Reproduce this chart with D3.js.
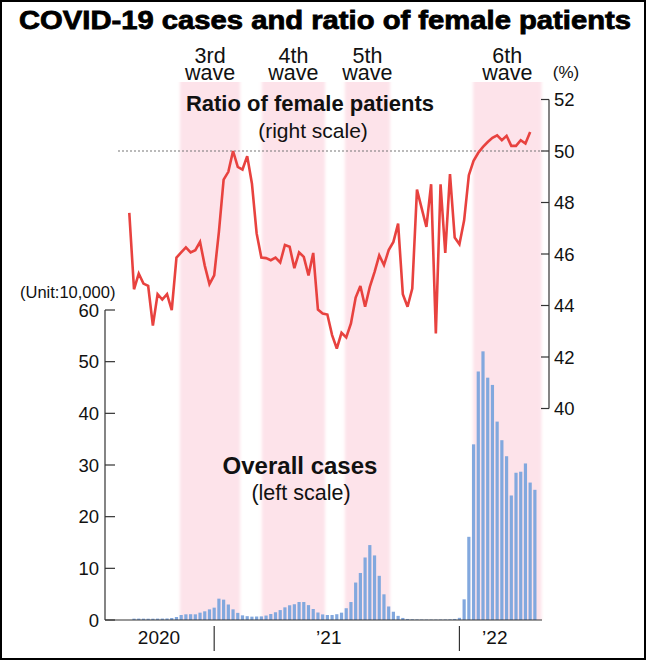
<!DOCTYPE html>
<html><head><meta charset="utf-8">
<script src="https://cdn.jsdelivr.net/npm/d3@7/dist/d3.min.js"></script>
<style>
html,body{margin:0;padding:0;background:#fff;}
svg{display:block;font-family:"Liberation Sans",Arial,Helvetica,sans-serif;}
</style></head><body>
<svg id="chart" width="646" height="660"></svg>
<script>
// ---- data ----
const title = "COVID-19 cases and ratio of female patients";
// weekly overall cases (unit: 10,000), weeks 1..86
const cases = [0.26,0.27,0.26,0.25,0.25,0.27,0.28,0.30,0.39,0.58,
  0.97,1.10,1.12,1.10,1.42,1.68,2.06,2.39,4.13,3.94,
  3.00,2.06,1.38,0.90,0.74,0.65,0.68,0.70,0.86,1.16,
  1.50,1.92,2.45,2.85,3.05,3.48,3.48,2.88,2.13,1.45,
  1.08,0.97,0.97,1.12,1.42,2.28,3.48,7.25,9.10,12.1,
  14.5,12.5,8.55,4.97,2.62,1.60,0.80,0.40,0.20,0.14,
  0.11,0.09,0.08,0.08,0.08,0.09,0.10,0.12,0.20,0.42,
  4.0,16.1,34.0,48.1,52.0,46.9,45.5,38.4,34.8,31.7,
  24.1,28.5,28.7,30.3,26.6,25.2];
// weekly ratio of female patients (%), weeks 0..85
const ratio = [47.60,44.63,45.24,44.85,44.76,43.22,44.44,44.23,44.44,43.82,
  45.86,46.06,46.26,46.06,46.15,46.47,45.55,44.83,45.17,46.86,
  48.89,49.19,50.00,49.38,49.28,49.80,48.74,46.80,45.86,45.84,
  45.76,45.86,45.67,46.35,46.28,45.45,46.06,45.89,45.17,46.04,
  43.84,43.69,43.65,42.85,42.33,42.94,42.76,43.30,44.31,44.76,
  43.95,44.72,45.30,45.95,45.57,46.15,46.47,47.18,44.44,43.95,
  44.66,48.50,47.77,47.05,48.71,42.91,48.71,46.04,49.10,46.64,
  46.38,47.31,49.06,49.62,49.93,50.16,50.35,50.51,50.61,50.42,
  50.59,50.20,50.20,50.42,50.29,50.74];
const waveNames = ["3rd","4th","5th","6th"];
const waveStart = [10.75, 28.1, 45.7, 72.9];   // week index
const waveEnd   = [23.5, 41.5, 55.3, 87.4];
const yearTickWeeks = [18, 70];
const yearLabels = ["2020", "\u201921", "\u201922"];
const yearLabelWeeks = [6.3, 42.3, 77.5];
const leftTicks = [0,10,20,30,40,50,60];
const rightTicks = [40,42,44,46,48,50,52];

// ---- drawing ----
const svg = d3.select("#chart");
const x = d3.scaleLinear().domain([0, 86]).range([129.3, 129.3 + 86*4.716]);
const yC = d3.scaleLinear().domain([0, 60]).range([620, 310]);
const yR = d3.scaleLinear().domain([40, 52]).range([408.5, 99.5]);

const defs = svg.append("defs");
defs.append("filter").attr("id","soft").attr("x","-10%").attr("width","120%")
  .append("feGaussianBlur").attr("stdDeviation","1.8 0");

// wave bands
svg.append("g").attr("filter","url(#soft)").selectAll("rect").data(waveStart).join("rect")
  .attr("x", (d,i)=>x(d)).attr("width",(d,i)=>x(waveEnd[i])-x(d))
  .attr("y", 82).attr("height", 620-82)
  .attr("fill", "#fde3ea");

// wave labels (one text element, two lines)
const wl = svg.append("g").attr("font-size", 21.5).attr("text-anchor","middle").attr("fill","#111");
waveNames.forEach((n,i)=>{
  const cx = x((waveStart[i]+waveEnd[i])/2);
  const t = wl.append("text").attr("x",cx).attr("y",63);
  t.append("tspan").attr("x",cx).attr("y",63).text(n);
  t.append("tspan").attr("x",cx).attr("y",80).text("wave");
});

// bars
const bw = 3.2;
svg.append("g").selectAll("rect").data(cases).join("rect")
  .attr("x",(d,i)=>x(i+1)-bw/2).attr("width",bw)
  .attr("y",d=>yC(d)).attr("height",d=>yC(0)-yC(d))
  .attr("fill","#82a8de");

// baseline
svg.append("line").attr("x1",105).attr("x2",542).attr("y1",yC(0)).attr("y2",yC(0))
  .attr("stroke","#333").attr("stroke-width",1.2);

// left axis
const la = svg.append("g").attr("stroke","#333");
la.append("line").attr("x1",105).attr("x2",105).attr("y1",yC(60)).attr("y2",yC(0)).attr("stroke-width",1.2);
la.selectAll("line.t").data(leftTicks).join("line").attr("class","t")
  .attr("x1",105).attr("x2",115).attr("y1",d=>yC(d)).attr("y2",d=>yC(d)).attr("stroke-width",1.2);
svg.append("g").attr("font-size",18.5).attr("text-anchor","end").attr("fill","#111")
  .selectAll("text").data(leftTicks).join("text")
  .attr("x",99).attr("y",d=>yC(d)).attr("dy","0.36em").text(d=>d);
svg.append("text").attr("x",20).attr("y",298).attr("font-size",16.5).attr("fill","#111").text("(Unit:10,000)");

// right axis
const ra = svg.append("g").attr("stroke","#333");
ra.append("line").attr("x1",549).attr("x2",549).attr("y1",yR(52)).attr("y2",yR(40)).attr("stroke-width",1.2);
ra.selectAll("line.t").data(rightTicks).join("line").attr("class","t")
  .attr("x1",541).attr("x2",549).attr("y1",d=>yR(d)).attr("y2",d=>yR(d)).attr("stroke-width",1.2);
svg.append("g").attr("font-size",18.5).attr("text-anchor","start").attr("fill","#111")
  .selectAll("text").data(rightTicks).join("text")
  .attr("x",554).attr("y",d=>yR(d)).attr("dy","0.36em").text(d=>d);
svg.append("text").attr("x",566).attr("y",78).attr("font-size",17).attr("text-anchor","middle").attr("fill","#111").text("(%)");

// 50% dotted reference
svg.append("line").attr("x1",118).attr("x2",549).attr("y1",yR(50)).attr("y2",yR(50))
  .attr("stroke","#777").attr("stroke-width",1.2).attr("stroke-dasharray","2,2");

// ratio line
svg.append("path").datum(ratio)
  .attr("d", d3.line().x((d,i)=>x(i)).y(d=>yR(d)))
  .attr("fill","none").attr("stroke","#e8423f").attr("stroke-width",2.6)
  .attr("stroke-linejoin","miter").attr("stroke-miterlimit",3);

// year ticks and labels
svg.append("g").selectAll("line").data(yearTickWeeks).join("line")
  .attr("x1",d=>x(d)).attr("x2",d=>x(d)).attr("y1",626).attr("y2",651)
  .attr("stroke","#333").attr("stroke-width",1.2);
svg.append("g").attr("font-size",19).attr("text-anchor","middle").attr("fill","#111")
  .selectAll("text").data(yearLabels).join("text")
  .attr("x",(d,i)=>x(yearLabelWeeks[i])).attr("y",644).text(d=>d);

// annotations
svg.append("text").attr("x",310).attr("y",111).attr("font-size",22).attr("font-weight","bold")
  .attr("text-anchor","middle").attr("fill","#111").text("Ratio of female patients");
svg.append("text").attr("x",313).attr("y",137.5).attr("font-size",21)
  .attr("text-anchor","middle").attr("fill","#111").text("(right scale)");
svg.append("text").attr("x",300).attr("y",474).attr("font-size",24).attr("font-weight","bold")
  .attr("text-anchor","middle").attr("fill","#111").text("Overall cases");
svg.append("text").attr("x",301).attr("y",500).attr("font-size",21.5)
  .attr("text-anchor","middle").attr("fill","#111").text("(left scale)");

// title
svg.append("text").attr("x",325).attr("y",29).attr("font-size",25).attr("font-weight","bold")
  .attr("text-anchor","middle").attr("fill","#000").attr("stroke","#000").attr("stroke-width",0.8)
  .attr("textLength",612).attr("lengthAdjust","spacingAndGlyphs").text(title);

// frame
svg.append("rect").attr("x",1).attr("y",1).attr("width",644).attr("height",658)
  .attr("fill","none").attr("stroke","#000").attr("stroke-width",2);
</script>
</body></html>
